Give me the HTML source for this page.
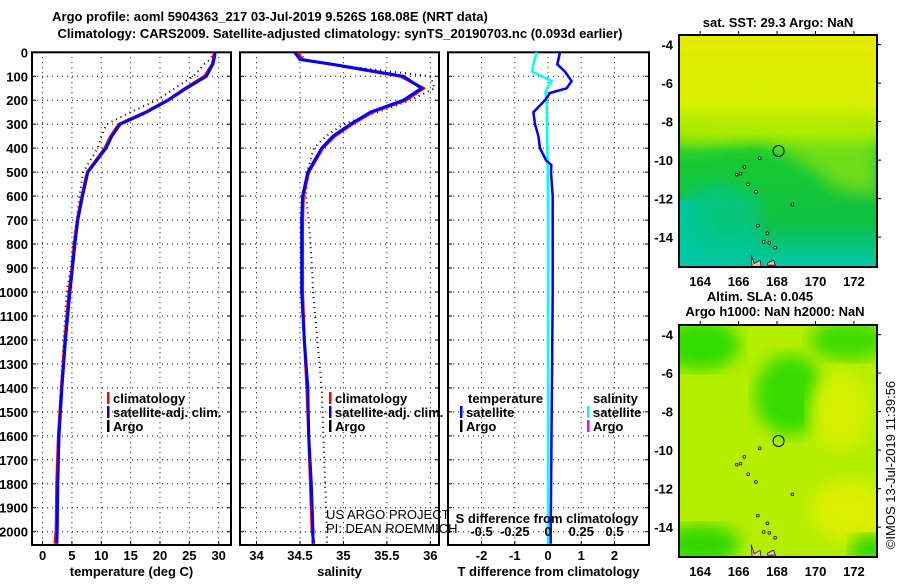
<!DOCTYPE html>
<html><head><meta charset="utf-8"><style>
body{margin:0;background:#fff;}
svg text{font-family:"Liberation Sans",sans-serif;font-weight:bold;font-size:13px;fill:#000;}
</style></head><body>
<svg id="chart" width="900" height="580" xmlns="http://www.w3.org/2000/svg">
<defs>
<linearGradient id="sstg" x1="0" y1="0" x2="0" y2="1">
<stop offset="0" stop-color="#e4ec00"/><stop offset="0.3" stop-color="#d8f000"/><stop offset="0.42" stop-color="#90e800"/><stop offset="0.5" stop-color="#18cc30"/><stop offset="0.8" stop-color="#10c040"/><stop offset="1" stop-color="#00c8b0"/>
</linearGradient>
<linearGradient id="sstg2" x1="0" y1="0" x2="1" y2="0">
<stop offset="0" stop-color="#00c8b0" stop-opacity="0.9"/><stop offset="0.4" stop-color="#00c8b0" stop-opacity="0"/>
</linearGradient>
<filter id="bl"><feGaussianBlur stdDeviation="8"/></filter>
<clipPath id="m1c"><rect x="679" y="35" width="198" height="232"/></clipPath>
<clipPath id="m2c"><rect x="679" y="325" width="198" height="232"/></clipPath>
</defs>
<text x="270" y="21" text-anchor="middle">Argo profile: aoml 5904363_217 03-Jul-2019 9.526S 168.08E (NRT data)</text>
<text x="340" y="38" text-anchor="middle">Climatology: CARS2009. Satellite-adjusted climatology: synTS_20190703.nc (0.093d earlier)</text>
<g id="panels"></g>
<g clip-path="url(#m1c)">
<rect x="679" y="35" width="198" height="232" fill="url(#sstg)"/>
<path d="M679 150 L760 140 L800 160 L840 190 L877 195 L877 120 L780 115 L679 120Z" fill="#c8f000" opacity="0.5" filter="url(#bl)"/>
<rect x="679" y="200" width="100" height="67" fill="url(#sstg2)"/>
<path d="M680 195 L720 180 L760 200 L760 267 L679 267Z" fill="#00c8a0" opacity="0.6" filter="url(#bl)"/>
</g>
<g clip-path="url(#m2c)">
<rect x="679" y="325" width="198" height="232" fill="#b4ee00"/>
<ellipse cx="700" cy="345" rx="40" ry="25" fill="#30dc00" filter="url(#bl)"/>
<ellipse cx="790" cy="395" rx="35" ry="40" fill="#38dc00" filter="url(#bl)"/>
<ellipse cx="850" cy="340" rx="40" ry="20" fill="#40dc00" filter="url(#bl)"/>
<ellipse cx="840" cy="410" rx="30" ry="40" fill="#d4f000" filter="url(#bl)"/>
<ellipse cx="850" cy="510" rx="40" ry="30" fill="#dcf000" filter="url(#bl)"/>
<ellipse cx="700" cy="545" rx="40" ry="20" fill="#30d800" filter="url(#bl)"/>
<ellipse cx="870" cy="550" rx="20" ry="15" fill="#30d800" filter="url(#bl)"/>
</g>
<g id="maps"></g>
<text x="778" y="27" text-anchor="middle" font-size="12">sat. SST: 29.3 Argo: NaN</text>
<text x="760" y="301" text-anchor="middle" font-size="12">Altim. SLA: 0.045</text>
<text x="775" y="316" text-anchor="middle" font-size="12">Argo h1000: NaN h2000: NaN</text>
<text transform="translate(895,465) rotate(-90)" text-anchor="middle" font-size="12" style="font-weight:normal">©IMOS 13-Jul-2019 11:39:56</text>
</svg>
<script>
const depths      = [0,30,50,100,150,200,250,300,350,400,500,600,700,800,900,1000,1200,1400,1600,1800,2000,2050];
const tempSat     = [29.4,29.2,29.0,27.9,24.5,21.4,17.7,13.2,11.8,10.8,7.7,6.8,6.0,5.5,5.1,4.65,3.9,3.3,2.8,2.6,2.5,2.45];
const tempClim    = [29.2,29.1,28.9,27.6,24.3,21.3,17.5,13.0,11.6,10.6,7.6,6.7,5.9,5.4,5.0,4.5,3.8,3.2,2.7,2.4,2.3,2.1];
const tempDot     = [29.3,28.5,27.5,25.7,22.5,19.5,15.0,10.9,10.0,9.4,6.9,6.3,5.8,5.2,4.8,4.1,3.6,3.1,2.7,2.5,2.4,2.3];
const salSat      = [34.44,34.5,34.88,35.69,35.9,35.69,35.31,35.08,34.88,34.75,34.59,34.53,34.52,34.52,34.52,34.52,34.55,34.59,34.6,34.63,34.65,34.65];
const salClim     = [34.48,34.52,34.86,35.66,35.92,35.72,35.33,35.1,34.9,34.76,34.6,34.54,34.53,34.53,34.53,34.53,34.55,34.58,34.6,34.62,34.64,34.66];
const salDot      = [34.5,34.55,34.85,36.0,36.05,35.77,35.39,35.0,34.8,34.66,34.58,34.57,34.6,34.62,34.64,34.65,34.7,34.75,34.77,34.79,34.81,34.81];
const dDepths     = [0,50,80,120,150,170,200,250,300,350,400,450,470,500,600,1000,1500,2000,2050];
const tDiff       = [0.36,0.28,0.51,0.71,0.56,0.06,-0.09,-0.44,-0.39,-0.29,-0.24,-0.06,0.1,0.09,0.14,0.14,0.11,0.08,0.08];
const sDiff       = [-0.085,-0.11,-0.12,0.028,-0.008,-0.02,-0.01,-0.008,-0.008,-0.006,-0.005,-0.004,-0.003,-0.002,-0.001,0,0,0,0];
const depthTicks  = [0,100,200,300,400,500,600,700,800,900,1000,1100,1200,1300,1400,1500,1600,1700,1800,1900,2000];
const tempTicks   = [0,5,10,15,20,25,30];
const salTicks    = [34,34.5,35,35.5,36];
const tdTicks     = [-2,-1,0,1,2];
const sdTicks     = [-0.5,-0.25,0,0.25,0.5];
const sdLabels    = ["-0.5","-0.25","0","0.25","0.5"];
const lonTicks    = [164,166,168,170,172];
const latTicks    = [-4,-6,-8,-10,-12,-14];
const islands     = [[166.3,-10.35],[165.9,-10.75],[166.1,-10.7],[166.5,-11.25],[166.9,-11.65],[167.0,-13.4],[167.5,-13.8],[167.6,-14.3],[167.3,-14.25],[167.9,-14.55],[168.8,-12.3],[167.1,-9.9]];
const argoLon = 168.08, argoLat = -9.526;

const NS="http://www.w3.org/2000/svg";
const G=document.getElementById('panels');
function el(tag,attrs,parent){const e=document.createElementNS(NS,tag);for(const k in attrs)e.setAttribute(k,attrs[k]);(parent||G).appendChild(e);return e;}
const yTop=52.3, yPer=(531.7-52.3)/2000, pBot=545;
const yD=d=>yTop+d*yPer;
function panel(name,x0,x1,vmin,vmax,ticks,xlabel){
  const sx=v=>x0+(v-vmin)/(vmax-vmin)*(x1-x0);
  const g=el('g',{});
  
  
  ticks.forEach(t=>{const gl=el('line',{x1:sx(t),x2:sx(t),y1:yTop,y2:pBot,stroke:'#000','stroke-width':1,'stroke-dasharray':'1,4'},g);});
  depthTicks.forEach(d=>{const gl=el('line',{x1:x0,x2:x1,y1:yD(d),y2:yD(d),stroke:'#000','stroke-width':1,'stroke-dasharray':'1,4'},g);
    el('line',{x1:x0,x2:x0+4,y1:yD(d),y2:yD(d),stroke:'#000'},g);el('line',{x1:x1-4,x2:x1,y1:yD(d),y2:yD(d),stroke:'#000'},g);});
  const fr=el('rect',{x:x0,y:yTop,width:x1-x0,height:pBot-yTop,fill:'none',stroke:'#000','stroke-width':2},g);
  
  ticks.forEach(t=>{const tx=el('text',{x:sx(t),y:560,'text-anchor':'middle'},g);tx.textContent=String(t);
    
    el('line',{x1:sx(t),x2:sx(t),y1:pBot,y2:pBot-4,stroke:'#000'},g);});
  const xl=el('text',{x:(x0+x1)/2,y:576,'text-anchor':'middle'},g);xl.textContent=xlabel;
  
  return {sx,g};
}
function line(g,sx,ds,vs,color,w,dash,name){
  const pts=ds.map((d,i)=>sx(vs[i]).toFixed(1)+','+yD(d).toFixed(1)).join(' ');
  const p=el('polyline',{points:pts,fill:'none',stroke:color,'stroke-width':w,'stroke-dasharray':dash||'none'},g);
  
}
depthTicks.forEach(d=>{const t=el('text',{x:28,y:yD(d)+5,'text-anchor':'end'});t.textContent=d;
  });
const P1=panel('temperature-panel',32,231,-1.8,32.1,tempTicks,'temperature (deg C)');
line(P1.g,P1.sx,depths,tempDot,'#000',2,'1,4','temp-dotted-line');
line(P1.g,P1.sx,depths,tempClim,'#f00',3,null,'temp-climatology-line');
line(P1.g,P1.sx,depths,tempSat,'#00f',3,null,'temp-satellite-line');
const P2=panel('salinity-panel',240,439,33.81,36.1,salTicks,'salinity');
line(P2.g,P2.sx,depths,salDot,'#000',2,'1,4','sal-dotted-line');
line(P2.g,P2.sx,depths,salClim,'#f00',3,null,'sal-climatology-line');
line(P2.g,P2.sx,depths,salSat,'#00f',3,null,'sal-satellite-line');
const P3=panel('difference-panel',448,649,-3.01,3.04,tdTicks,'T difference from climatology');
line(P3.g,P3.sx,dDepths,sDiff.map(v=>v*4),'#0ff',2.5,null,'sal-diff-line');
line(P3.g,P3.sx,dDepths,tDiff,'#00f',2.5,null,'temp-diff-line');
sdTicks.forEach((t,i)=>{const tx=el('text',{x:P3.sx(t*4),y:536,'text-anchor':'middle'},P3.g);tx.textContent=sdLabels[i];
  });
const sdt=el('text',{x:547,y:523,'text-anchor':'middle'},P3.g);sdt.textContent='S difference from climatology';

function leg(x,y,color,txt,name){const r=el('rect',{x:x,y:y-11,width:2.5,height:12,fill:color});
  
  const t=el('text',{x:x+6,y:y});t.textContent=txt;}
leg(107,403,'#f00','climatology','legend-climatology');leg(107,417,'#00f','satellite-adj. clim.','legend-satellite-adj');leg(107,431,'#000','Argo','legend-argo');
leg(329,403,'#f00','climatology','legend-climatology-2');leg(329,417,'#00f','satellite-adj. clim.','legend-satellite-adj-2');leg(329,431,'#000','Argo','legend-argo-2');
const lt=el('text',{x:468,y:403});lt.textContent='temperature';
const ls=el('text',{x:593,y:403});ls.textContent='salinity';
leg(460,417,'#00f','satellite','legend-t-satellite');leg(460,431,'#000','Argo','legend-t-argo');
leg(587,417,'#0ff','satellite','legend-s-satellite');leg(587,431,'#f0f','Argo','legend-s-argo');
[['US ARGO PROJECT',519],['PI: DEAN ROEMMICH',533]].forEach(([s,y])=>{const t=el('text',{x:326,y:y,'font-size':'12px',style:'font-weight:normal'});t.textContent=s;
  });
const M=document.getElementById('maps');
function map(name,top,bot){
  const lx=v=>679+(v-162.9)/(173.2-162.9)*198;
  const ly=v=>top+(v-(-3.5))/(-15.55+3.5)*(bot-top);
  const g=el('g',{},M);
  islands.forEach(([lo,la])=>{const c=el('circle',{cx:lx(lo),cy:ly(la),r:1.4,fill:'#f5c090',stroke:'#000','stroke-width':0.7},g);});
  el('path',{d:`M${lx(166.65)} ${ly(-14.9)} l3 9 l6 -3 l1 6 l-9 0z`,fill:'#f5c090',stroke:'#000','stroke-width':0.7},g);
  el('path',{d:`M${lx(167.5)} ${ly(-15.35)} l6 -3 l2 5 l-8 0z`,fill:'#f5c090',stroke:'#000','stroke-width':0.7},g);
  const ac=el('circle',{cx:lx(argoLon),cy:ly(argoLat),r:5.5,fill:'none',stroke:'#000','stroke-width':1},g);
  
  el('rect',{x:679,y:top,width:198,height:bot-top,fill:'none',stroke:'#000','stroke-width':2},g);
  lonTicks.forEach(t=>{const tx=el('text',{x:lx(t),y:bot+19,'text-anchor':'middle'},g);tx.textContent=t;
    
    el('line',{x1:lx(t),x2:lx(t),y1:top,y2:top-4,stroke:'#000'},g);});
  latTicks.forEach(t=>{const tx=el('text',{x:673,y:ly(t)+5,'text-anchor':'end'},g);tx.textContent=t;
    
    el('line',{x1:877,x2:881,y1:ly(t),y2:ly(t),stroke:'#000'},g);});
}
map('sst-map-axes',35,267);
map('sla-map-axes',325,557);
</script>
</body></html>
